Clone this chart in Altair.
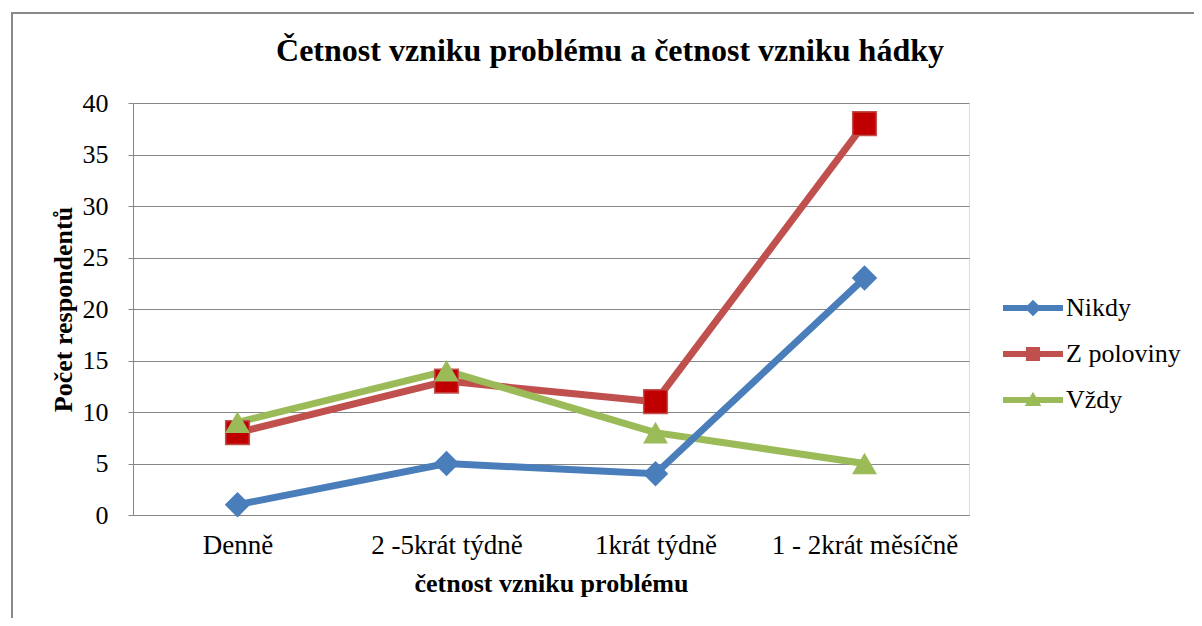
import altair as alt
import pandas as pd

categories = ["Denně", "2 -5krát týdně", "1krát týdně", "1 - 2krát měsíčně"]
series_names = ["Nikdy", "Z poloviny", "Vždy"]
nikdy = [1, 5, 4, 23]
z_poloviny = [8, 13, 11, 38]
vzdy = [9, 14, 8, 5]

line_colors = ["#4A7EBB", "#C0504D", "#9BBB59"]

rows = []
for name, vals in zip(series_names, [nikdy, z_poloviny, vzdy]):
    for c, v in zip(categories, vals):
        rows.append({"kategorie": c, "serie": name, "pocet": v})
df = pd.DataFrame(rows)

FONT = "Liberation Serif"

x_enc = alt.X(
    "kategorie:N",
    sort=categories,
    scale=alt.Scale(type="point", padding=0.5),
    axis=alt.Axis(
        title="četnost vzniku problému",
        labelAngle=0,
        ticks=False,
        grid=False,
        domainColor="#868686",
        labelFont=FONT,
        labelFontSize=27,
        labelColor="black",
        labelPadding=17,
        labelLimit=400,
        titleFont=FONT,
        titleFontSize=26,
        titleFontWeight="bold",
        titleColor="black",
        titlePadding=12,
    ),
)
y_enc = alt.Y(
    "pocet:Q",
    scale=alt.Scale(domain=[0, 40], nice=False),
    axis=alt.Axis(
        title="Počet respondentů",
        values=[0, 5, 10, 15, 20, 25, 30, 35, 40],
        grid=True,
        gridColor="#868686",
        gridWidth=1,
        domainColor="#868686",
        tickColor="#868686",
        tickSize=5,
        labelFont=FONT,
        labelFontSize=26,
        labelColor="black",
        labelPadding=20,
        titleFont=FONT,
        titleFontSize=26,
        titleFontWeight="bold",
        titleColor="black",
        titlePadding=6,
    ),
)

line_seg = "M-2,-0.2L2,-0.2L2,0.2L-2,0.2Z"
path_nikdy = line_seg + "M-0.55,0L0,-0.55L0.55,0L0,0.55Z"
path_zpol = line_seg + "M-0.47,-0.47L0.47,-0.47L0.47,0.47L-0.47,0.47Z"
path_vzdy = line_seg + "M-0.55,0.4L0,-0.55L0.55,0.4Z"

legend = alt.Legend(
    title=None,
    orient="none",
    legendX=885,
    legendY=190,
    padding=0,
    symbolSize=900,
    symbolOpacity=1,
    symbolStrokeWidth=0,
    rowPadding=18,
    labelOffset=18,
    labelLimit=300,
    labelFont=FONT,
    labelFontSize=26,
    labelColor="black",
)

color_scale = alt.Scale(domain=series_names, range=line_colors)

base = alt.Chart(df)

frame = alt.Chart(alt.Data(values=[{}])).mark_rect(
    fill="transparent", stroke="#8A8A8A", strokeWidth=2
).encode(
    x=alt.value(-121), y=alt.value(-90), x2=alt.value(1400), y2=alt.value(900)
)


def line_layer(name, col):
    return base.transform_filter(alt.datum.serie == name).mark_line(
        strokeWidth=7, color=col
    ).encode(x=x_enc, y=y_enc)


lines = [
    line_layer("Z poloviny", line_colors[1]),
    line_layer("Vždy", line_colors[2]),
    line_layer("Nikdy", line_colors[0]),
]

squares = base.transform_filter(alt.datum.serie == "Z poloviny").mark_point(
    shape="square", filled=True, size=560, fill="#C00000", stroke="#C0504D",
    strokeWidth=1.5, opacity=1
).encode(x=x_enc, y=y_enc)
diamonds = base.transform_filter(alt.datum.serie == "Nikdy").mark_point(
    shape="diamond", filled=True, size=650, color="#4A7EBB", opacity=1
).encode(x=x_enc, y=y_enc)
triangles = base.transform_filter(alt.datum.serie == "Vždy").mark_point(
    shape="triangle-up", filled=True, size=620, color="#9BBB59", opacity=1
).encode(x=x_enc, y=y_enc)

legend_layer = base.mark_point(filled=True, opacity=0, size=10).encode(
    x=x_enc,
    y=y_enc,
    color=alt.Color("serie:N", scale=color_scale, sort=series_names, legend=legend),
    shape=alt.Shape(
        "serie:N",
        scale=alt.Scale(domain=series_names, range=[path_nikdy, path_zpol, path_vzdy]),
        sort=series_names,
        legend=legend,
    ),
)

chart = alt.layer(frame, *lines, squares, diamonds, triangles, legend_layer).properties(
    width=836,
    height=412,
    title=alt.TitleParams(
        "Četnost vzniku problému a četnost vzniku hádky",
        font=FONT,
        fontSize=32,
        fontWeight="bold",
        color="black",
        anchor="middle",
        frame="group",
        dx=59,
        offset=-56,
    ),
    padding={"left": 125, "top": 95, "right": 225, "bottom": 103},
    autosize="none",
).configure_view(stroke=None).configure(background="white")

chart.save("out.html", embed_options={"renderer": "svg", "actions": False})
